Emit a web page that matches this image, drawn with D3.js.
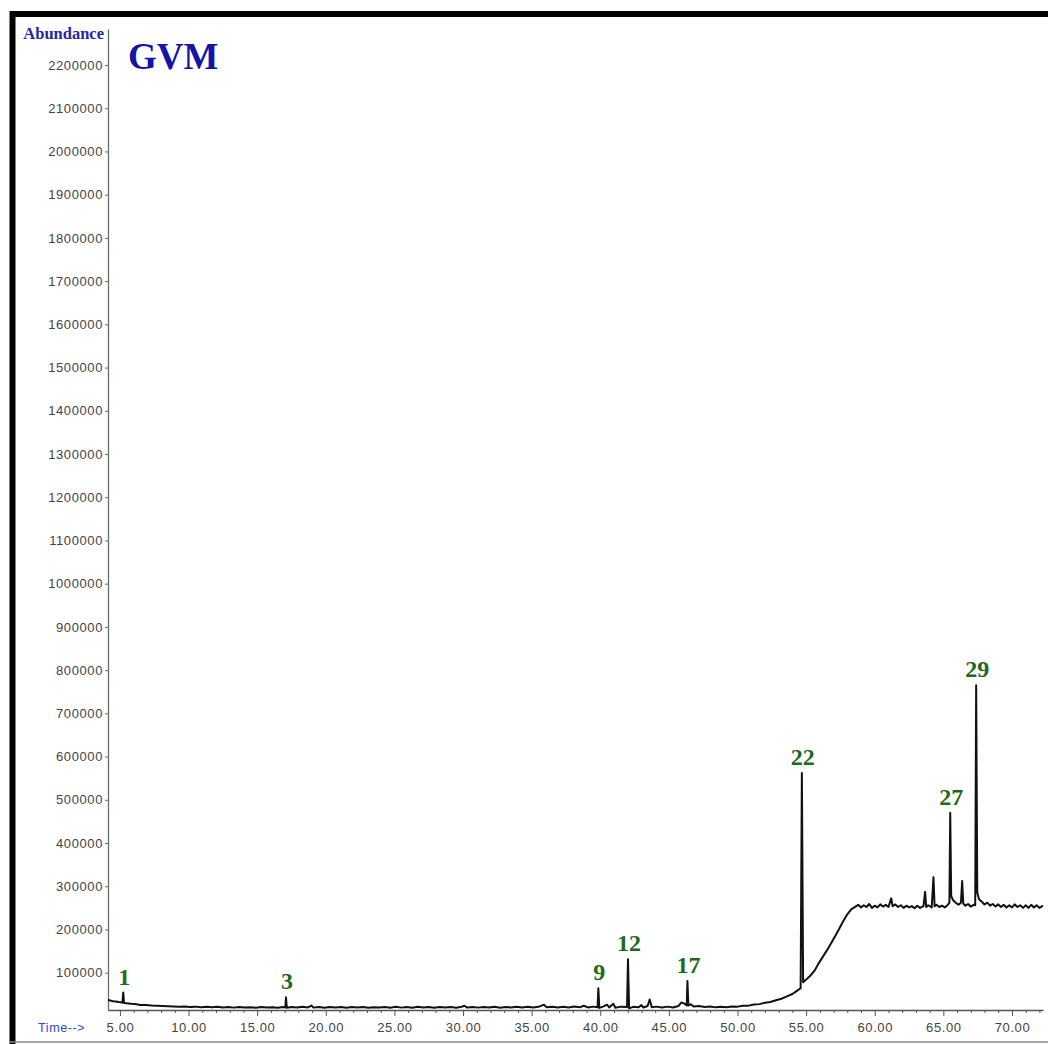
<!DOCTYPE html>
<html>
<head>
<meta charset="utf-8">
<script src="https://cdn.jsdelivr.net/npm/d3@7"></script>
<style>
  html, body { margin: 0; padding: 0; background: #fff; }
  svg { display: block; }
</style>
</head>
<body>
<svg id="chart" width="1048" height="1044"></svg>
<script>
// chromatogram trace: [retention time (min), abundance]
var trace = [
  [4.13, 37000], [4.3, 35500], [4.5, 34000], [4.7, 33500], [4.9, 32000], [5.1, 31500], [5.18, 30500],
  [5.24, 54000], [5.3, 30000], [5.5, 29500], [5.8, 28000], [6.1, 27500], [6.5, 25500], [6.9, 25500],
  [7.3, 24000], [7.7, 23500], [8.1, 23000], [8.5, 22500], [8.9, 22000], [9.3, 21500], [9.7, 21800],
  [10.1, 20500], [10.5, 21500], [10.9, 20000], [11.3, 21000], [11.7, 19800], [12.1, 21200], [12.5, 19500],
  [12.9, 20600], [13.3, 19200], [13.7, 20800], [14.1, 19400], [14.5, 20300], [14.9, 19000], [15.3, 20600],
  [15.7, 19300], [16.1, 20200], [16.5, 19000], [16.9, 20400], [17.05, 19500], [17.1, 43000], [17.16, 19000],
  [17.5, 20800], [17.9, 19300], [18.3, 21200], [18.7, 19600], [18.95, 24000], [19.1, 19200], [19.5, 20900],
  [19.9, 19100], [20.3, 20500], [20.7, 19400], [21.1, 20900], [21.5, 19000], [21.9, 20400], [22.3, 19300],
  [22.7, 20700], [23.1, 18900], [23.5, 20300], [23.9, 19500], [24.3, 20800], [24.7, 19100], [25.1, 21000],
  [25.5, 19200], [25.9, 20400], [26.3, 19000], [26.7, 21100], [27.1, 19600], [27.5, 20500], [27.9, 19100],
  [28.3, 20900], [28.7, 19300], [29.1, 20600], [29.5, 19000], [29.9, 21000], [30.1, 23500], [30.3, 19400],
  [30.7, 20900], [31.1, 19200], [31.5, 20600], [31.9, 19500], [32.3, 21200], [32.7, 19000], [33.1, 20700],
  [33.5, 19600], [33.9, 21000], [34.3, 19400], [34.7, 21100], [35.1, 19300], [35.5, 21000], [35.9, 26000],
  [36.1, 19800], [36.5, 21400], [36.9, 19500], [37.3, 21000], [37.7, 19600], [38.1, 21600], [38.5, 19800],
  [38.8, 23500], [39.1, 19700], [39.5, 21500], [39.8, 20000], [39.86, 64000], [39.93, 18500], [40.2, 21500],
  [40.5, 26000], [40.65, 19500], [40.95, 28000], [41.1, 19000], [41.5, 21500], [41.95, 20500], [42.02, 131000],
  [42.1, 17500], [42.4, 21000], [42.8, 20000], [43.0, 25000], [43.15, 19500], [43.45, 23000], [43.6, 38000],
  [43.75, 20000], [44.1, 21500], [44.5, 19500], [44.9, 21500], [45.3, 19500], [45.7, 23000], [45.9, 31000],
  [46.1, 29000], [46.3, 24000], [46.35, 81000], [46.42, 24000], [46.6, 27000], [46.8, 22000], [47.2, 22800],
  [47.6, 20700], [48.0, 21800], [48.4, 19800], [48.8, 21200], [49.2, 19900], [49.6, 21700], [50.0, 21500],
  [50.4, 23600], [50.8, 23800], [51.2, 26200], [51.6, 27300], [52.0, 30300], [52.4, 32200], [52.8, 36300],
  [53.2, 39700], [53.6, 45300], [54.0, 50700], [54.3, 57300], [54.6, 64000], [54.69, 562000], [54.78, 78000],
  [55.0, 84000], [55.3, 93000], [55.6, 104000], [55.9, 121000], [56.2, 136000], [56.5, 151000], [56.8, 167000],
  [57.1, 184000], [57.4, 201000], [57.7, 219000], [58.0, 235000], [58.3, 247000], [58.6, 253000],
  [58.8, 257000], [59.0, 251000], [59.2, 256000], [59.4, 252000], [59.6, 259000], [59.8, 250000],
  [60.0, 255000], [60.2, 251000], [60.4, 258000], [60.6, 253000], [60.8, 257000], [61.0, 252000],
  [61.2, 272000], [61.3, 254000], [61.5, 258000], [61.7, 252000], [61.9, 256000], [62.1, 250000],
  [62.3, 255000], [62.5, 251000], [62.7, 254000], [62.9, 249000], [63.1, 255000], [63.3, 250000],
  [63.55, 254000], [63.67, 287000], [63.75, 252000], [63.9, 256000], [64.15, 251000], [64.28, 321000],
  [64.36, 254000], [64.5, 257000], [64.7, 252000], [64.9, 255000], [65.1, 251000], [65.3, 256000],
  [65.44, 262000], [65.5, 470000], [65.57, 278000], [65.7, 268000], [65.9, 262000], [66.1, 257000],
  [66.28, 262000], [66.37, 312000], [66.45, 260000], [66.6, 255000], [66.8, 259000], [67.0, 253000],
  [67.2, 257000], [67.32, 256000], [67.39, 765000], [67.47, 285000], [67.6, 270000], [67.8, 264000],
  [68.0, 258000], [68.2, 262000], [68.4, 255000], [68.6, 259000], [68.8, 253000], [69.0, 258000],
  [69.2, 252000], [69.4, 257000], [69.6, 251000], [69.8, 256000], [70.0, 251000], [70.2, 258000],
  [70.4, 252000], [70.6, 256000], [70.8, 250000], [71.0, 256000], [71.2, 250000], [71.4, 257000],
  [71.6, 251000], [71.8, 256000], [72.0, 250000], [72.26, 255000]
];

// numbered peaks: label, apex time, apex abundance
var peakIds = ["1", "3", "9", "12", "17", "22", "27", "29"];
var peakTimes = [5.24, 17.1, 39.86, 42.02, 46.35, 54.69, 65.5, 67.39];
var peakApex = [54000, 43000, 64000, 131000, 81000, 562000, 470000, 765000];

var yTicks = d3.range(100000, 2200001, 100000);
var xMajor = d3.range(5, 71, 5);
var xMinor = d3.range(5, 73, 1).filter(function(d) { return d % 5 !== 0; });

var svg = d3.select("#chart");

var x = d3.scaleLinear().domain([4.13, 72.26]).range([108, 1043]);
var y = d3.scaleLinear().domain([13700, 2283300]).range([1010, 29]);

// outer frame
svg.append("line").attr("x1", 10).attr("x2", 1048).attr("y1", 14).attr("y2", 14)
  .attr("stroke", "#000").attr("stroke-width", 6);
svg.append("line").attr("x1", 12.5).attr("x2", 12.5).attr("y1", 11).attr("y2", 1044)
  .attr("stroke", "#000").attr("stroke-width", 6);
svg.append("line").attr("x1", 10).attr("x2", 1048).attr("y1", 1042).attr("y2", 1042)
  .attr("stroke", "#8a8a8a").attr("stroke-width", 1.5);

// y axis
var yAxis = d3.axisLeft(y).tickValues(yTicks).tickSize(3).tickPadding(2).tickSizeOuter(0)
  .tickFormat(d3.format("d"));
var gY = svg.append("g").attr("transform", "translate(108,0)").call(yAxis);
gY.select(".domain").attr("stroke", "#6a6a6a").attr("stroke-width", 1.3);
gY.selectAll(".tick line").attr("stroke", "#6a6a6a");
gY.selectAll(".tick text")
  .attr("fill", "#444")
  .style("font-family", "'Liberation Sans', Arial, sans-serif")
  .style("font-size", "13px")
  .style("letter-spacing", "0.6px");

// x axis: minor then major ticks
var gXm = svg.append("g").attr("transform", "translate(0,1010)")
  .call(d3.axisBottom(x).tickValues(xMinor).tickSize(3).tickFormat(""));
gXm.select(".domain").remove();
gXm.selectAll(".tick line").attr("stroke", "#555");

var gX = svg.append("g").attr("transform", "translate(0,1010)")
  .call(d3.axisBottom(x).tickValues(xMajor).tickSize(6).tickPadding(7).tickSizeOuter(0)
    .tickFormat(d3.format(".2f")));
gX.select(".domain").attr("stroke", "#555").attr("stroke-width", 1.3);
gX.selectAll(".tick line").attr("stroke", "#555");
gX.selectAll(".tick text")
  .attr("fill", "#444")
  .style("font-family", "'Liberation Sans', Arial, sans-serif")
  .style("font-size", "13px")
  .style("letter-spacing", "0.6px");

svg.append("text").attr("x", 38).attr("y", 1032)
  .attr("fill", "#3447d0")
  .style("font-family", "'Liberation Sans', Arial, sans-serif")
  .style("font-size", "12.5px")
  .style("letter-spacing", "0.6px")
  .text("Time-->");

svg.append("text").attr("x", 104).attr("y", 39).attr("text-anchor", "end")
  .attr("fill", "#2626a6")
  .style("font-family", "'Liberation Serif', 'Times New Roman', serif")
  .style("font-weight", "bold")
  .style("font-size", "16.5px")
  .text("Abundance");

svg.append("text").attr("x", 128).attr("y", 69)
  .attr("fill", "#1414a8")
  .style("font-family", "'Liberation Serif', 'Times New Roman', serif")
  .style("font-weight", "bold")
  .style("font-size", "37px")
  .text("GVM");

// trace
var line = d3.line()
  .x(function(d) { return x(d[0]); })
  .y(function(d) { return y(d[1]); });

svg.append("path")
  .datum(trace)
  .attr("d", line)
  .attr("fill", "none")
  .attr("stroke", "#111")
  .attr("stroke-width", 2)
  .attr("stroke-linejoin", "round");

// peak numbers
svg.append("g").selectAll("text")
  .data(peakIds)
  .enter()
  .append("text")
  .attr("x", function(d, i) { return x(peakTimes[i]) + 1; })
  .attr("y", function(d, i) { return y(peakApex[i]) - 8; })
  .attr("text-anchor", "middle")
  .attr("fill", "#1d6a1d")
  .style("font-family", "'Liberation Serif', 'Times New Roman', serif")
  .style("font-weight", "bold")
  .style("font-size", "24px")
  .text(function(d) { return d; });
</script>
</body>
</html>
